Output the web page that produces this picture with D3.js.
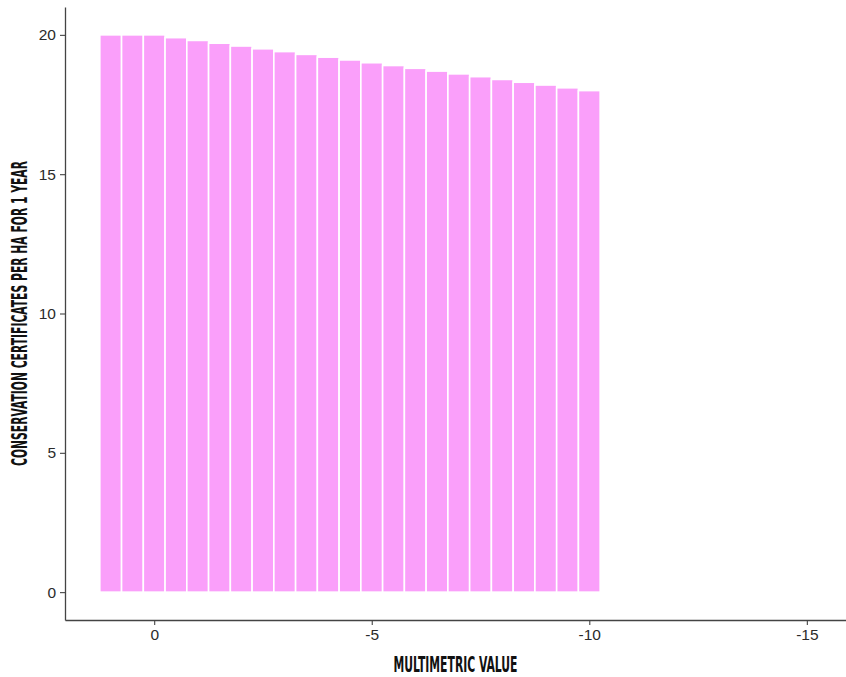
<!DOCTYPE html>
<html>
<head>
<meta charset="utf-8">
<script src="https://cdn.jsdelivr.net/npm/d3@7"></script>
<style>
  body { margin: 0; background: #fff; }
  svg { display: block; }
</style>
</head>
<body>
<svg width="846" height="677"></svg>
<script>
  // multimetric values (bar positions) and certificates per ha
  const multimetric = [1, 0.5, 0, -0.5, -1, -1.5, -2, -2.5, -3, -3.5, -4, -4.5,
    -5, -5.5, -6, -6.5, -7, -7.5, -8, -8.5, -9, -9.5, -10];
  const certificates = [20, 20, 20, 19.9, 19.8, 19.7, 19.6, 19.5, 19.4, 19.3, 19.2, 19.1,
    19.0, 18.9, 18.8, 18.7, 18.6, 18.5, 18.4, 18.3, 18.2, 18.1, 18.0];
  const xTicks = [0, -5, -10, -15];
  const yTicks = [0, 5, 10, 15, 20];

  const data = multimetric.map((m, i) => ({ m, v: certificates[i] }));

  const svg = d3.select('svg');
  const margin = { top: 7, right: 0, bottom: 57, left: 65 };
  const width = 846 - margin.left - margin.right;
  const height = 677 - margin.top - margin.bottom;

  const x = d3.scaleLinear().domain([2.05, -15.9]).range([0, width]);
  const y = d3.scaleLinear().domain([-1, 21]).range([height, 0]);

  const g = svg.append('g')
      .attr('transform', `translate(${margin.left},${margin.top})`);

  const barW = Math.abs(x(0.5) - x(0));
  g.selectAll('rect.bar')
    .data(data)
    .enter().append('rect')
      .attr('class', 'bar')
      .attr('x', d => x(d.m) - barW / 2)
      .attr('width', barW)
      .attr('y', d => y(d.v))
      .attr('height', d => y(0) - y(d.v))
      .attr('fill', '#fa9ffa')
      .attr('stroke', '#fff')
      .attr('stroke-width', 1.6);

  const xAxis = g.append('g')
      .attr('transform', `translate(0,${height})`)
      .call(d3.axisBottom(x).tickValues(xTicks).tickSizeInner(5).tickSizeOuter(0).tickPadding(4));

  const yAxis = g.append('g')
      .call(d3.axisLeft(y).tickValues(yTicks).tickSizeInner(5).tickSizeOuter(0).tickPadding(4));

  [xAxis, yAxis].forEach(a => {
    a.select('.domain').attr('stroke', '#444').attr('stroke-width', 1.3);
    a.selectAll('.tick line').attr('stroke', '#444').attr('stroke-width', 1.1);
    a.selectAll('.tick text')
      .attr('fill', '#2b2b2b')
      .style('font-family', '"Liberation Sans", Arial, sans-serif')
      .style('font-size', '15.5px');
  });
  xAxis.selectAll('.tick text').text(d => d === 0 ? '0' : '-' + Math.abs(d));

  svg.append('text')
      .attr('x', margin.left + width / 2)
      .attr('y', 672)
      .attr('text-anchor', 'middle')
      .attr('textLength', 124)
      .attr('lengthAdjust', 'spacingAndGlyphs')
      .style('font-family', '"Liberation Sans Narrow", "DejaVu Sans Condensed", sans-serif')
      .style('font-weight', 'bold')
      .style('font-size', '22px')
      .attr('fill', '#111')
      .text('MULTIMETRIC VALUE');

  svg.append('text')
      .attr('transform', `translate(27,${margin.top + height / 2}) rotate(-90)`)
      .attr('text-anchor', 'middle')
      .attr('textLength', 305)
      .attr('lengthAdjust', 'spacingAndGlyphs')
      .style('font-family', '"Liberation Sans Narrow", "DejaVu Sans Condensed", sans-serif')
      .style('font-weight', 'bold')
      .style('font-size', '21px')
      .attr('fill', '#111')
      .text('CONSERVATION CERTIFICATES PER HA FOR 1 YEAR');
</script>
</body>
</html>
